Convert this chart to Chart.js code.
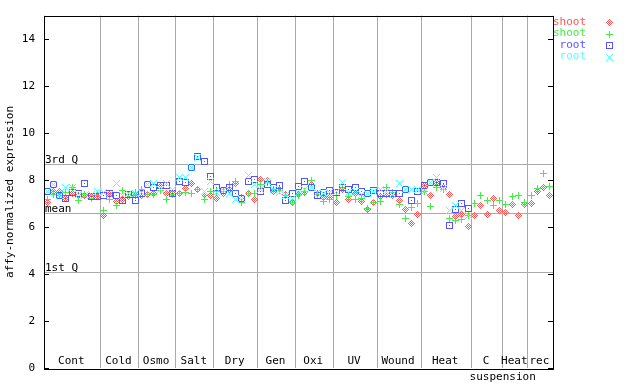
<!DOCTYPE html>
<html>
<head>
<meta charset="utf-8">
<script src="https://cdn.jsdelivr.net/npm/chart.js@4.4.1/dist/chart.umd.min.js"></script>
<style>
  html, body { margin: 0; padding: 0; background: #fff; }
</style>
</head>
<body>
<canvas id="chart" width="640" height="384"></canvas>
<script>
// group labels along the bottom and how many samples each group has
const groupLabels = ['Cont', 'Cold', 'Osmo', 'Salt', 'Dry', 'Gen', 'Oxi', 'UV', 'Wound', 'Heat', 'C', 'Heat', 'rec'];
const groupSizes = [9, 6, 6, 6, 7, 6, 6, 7, 7, 8, 5, 4, 4];

const yTicks = [0, 2, 4, 6, 8, 10, 12, 14];
const quartileNames = ['3rd Q', 'mean', '1st Q'];
const quartileValues = [8.68, 6.62, 4.08];

const seriesNames = ['shoot', 'shoot', 'root', 'root'];
const seriesColors = ['#ff5555', '#44ee44', '#5555ff', '#55ffff'];

// shoot, replicate 1
const shoot1 = [
  7.05, 7.51, 7.54, 7.23, 7.43, 7.35, 7.33, 7.32, 7.32, 6.49, 7.40, 7.10, 7.19, 7.29,
  7.33, 7.33, 7.40, 7.43, 7.75, 7.43, 7.43, 7.44, 7.65, 7.88, 7.61, 7.40, 7.33, 7.23,
  7.45, 7.61, 7.85, 7.25, 7.43, 7.19, 8.03, 7.99, 7.54, 7.61, 7.40, 7.05, 7.40, 7.47,
  7.82, 7.43, 7.26, 7.26, 7.05, 7.61, 7.19, 7.43, 7.08, 6.77, 7.05, 7.29, 7.40,
  7.35, 7.15, 6.77, 6.14, 6.53, 7.79, 7.33, 7.89, 7.70, 7.40, 6.44, 6.53, 6.02,
  6.49, 6.94, 6.56, 7.23, 6.73, 6.63, 6.98, 6.49, 6.98, 7.02, 7.54, 7.71, 7.37
];
// shoot, replicate 2
const shoot2 = [
  7.16, 7.40, 7.33, 7.47, 7.71, 7.12, 7.40, 7.23, 7.33, 6.70, 7.19, 6.91, 7.57, 7.40,
  7.47, 7.61, 7.40, 7.40, 7.58, 7.19, 7.40, 7.43, 7.50, 7.44, 7.61, 7.19, 7.54, 7.51,
  7.54, 7.82, 7.96, 7.05, 7.43, 7.44, 7.82, 7.89, 7.61, 7.58, 7.35, 7.05, 7.37, 7.54,
  8.00, 7.40, 7.08, 7.19, 7.33, 7.68, 7.29, 7.19, 7.23, 6.81, 7.05, 7.08, 7.68,
  7.50, 6.98, 6.39, 6.84, 7.00, 7.54, 6.87, 7.71, 7.61, 6.39, 6.30, 6.35, 6.50,
  7.02, 7.37, 7.15, 6.94, 7.15, 6.98, 7.29, 7.37, 7.05, 7.37, 7.65, 8.28, 7.75
];
// root, replicate 1
const root1 = [
  7.54, 7.82, 7.33, 7.23, 7.47, 7.43, 7.86, 7.32, 7.32, 7.37, 7.43, 7.33, 7.15, 7.40,
  7.15, 7.44, 7.82, 7.68, 7.76, 7.79, 7.43, 7.96, 7.92, 8.55, 9.01, 8.80, 8.17, 7.71,
  7.57, 7.71, 7.44, 7.23, 7.96, 8.03, 7.51, 7.82, 7.71, 7.79, 7.12, 7.44, 7.75, 7.96,
  7.68, 7.33, 7.50, 7.57, 7.50, 7.71, 7.61, 7.71, 7.54, 7.44, 7.57, 7.43, 7.44,
  7.44, 7.44, 7.61, 7.15, 7.54, 7.79, 7.89, 7.89, 7.85, 6.07, 6.77, 7.02, 6.81
];
// root, replicate 2
const root2 = [
  7.54, 7.82, 7.33, 7.68, 7.68, 7.40, 7.37, 7.40, 7.51, 7.47, 7.40, 7.85, 7.37, 7.43,
  7.43, 7.47, 7.82, 7.86, 7.61, 7.86, 7.61, 8.10, 8.10, 8.55, 8.95, 7.54, 7.96, 7.47,
  7.57, 7.43, 7.19, 7.23, 8.19, 7.82, 7.60, 7.96, 7.61, 7.47, 7.37, 7.23, 7.47, 7.61,
  7.68, 7.47, 7.43, 7.47, 7.54, 7.89, 7.47, 7.54, 7.40, 7.44, 7.54, 7.61, 7.54,
  7.40, 7.85, 7.61, 7.60, 7.61, 7.54, 7.90, 8.13, 7.64, 6.72, 6.91, 6.70, 6.49
];

const FONT = { family: '"DejaVu Sans Mono", monospace', size: 11 };
const fontStr = '11px "DejaVu Sans Mono", monospace';

// group boundaries in sample units
const bounds = [0];
groupSizes.forEach(n => bounds.push(bounds[bounds.length - 1] + n));
const nSamples = bounds[bounds.length - 1];

// little pixel markers like the original
function makeMarker(rows, color) {
  const c = document.createElement('canvas');
  c.width = rows[0].length;
  c.height = rows.length;
  const g = c.getContext('2d');
  g.fillStyle = color;
  rows.forEach((row, r) => {
    for (let k = 0; k < row.length; k++) {
      if (row[k] === 'x') g.fillRect(k, r, 1, 1);
    }
  });
  return c;
}
const markers = [
  makeMarker(['...x...', '..x.x..', '.x.x.x.', 'x.x.x.x', '.x.x.x.', '..x.x..', '...x...'], seriesColors[0]),
  makeMarker(['...x...', '...x...', '...x...', 'xxxxxxx', '...x...', '...x...', '...x...'], seriesColors[1]),
  makeMarker(['xxxxxxx', 'x.....x', 'x.....x', 'x..x..x', 'x.....x', 'x.....x', 'xxxxxxx'], seriesColors[2]),
  makeMarker(['x.....x', '.x...x.', '..x.x..', '...x...', '..x.x..', '.x...x.', 'x.....x'], seriesColors[3])
];

function toPoints(values) {
  return values.map((v, i) => ({ x: i + 0.5, y: v }));
}
const allSeries = [shoot1, shoot2, root1, root2];
// later series are drawn on top (lower order = drawn last)
const datasets = allSeries.map((vals, k) => ({
  label: seriesNames[k],
  data: toPoints(vals),
  pointStyle: markers[k],
  pointRadius: 4,
  borderColor: seriesColors[k],
  backgroundColor: seriesColors[k],
  showLine: false,
  order: 3 - k
}));

const decor = {
  id: 'decor',
  beforeDatasetsDraw(chart) {
    const ctx = chart.ctx;
    const a = chart.chartArea;
    const y = chart.scales.y;
    ctx.save();
    ctx.strokeStyle = '#aaaaaa';
    ctx.lineWidth = 1;
    ctx.font = fontStr;
    ctx.fillStyle = '#000';
    ctx.textAlign = 'left';
    ctx.textBaseline = 'alphabetic';
    quartileValues.forEach((v, i) => {
      const py = Math.round(y.getPixelForValue(v)) + 0.5;
      ctx.beginPath();
      ctx.moveTo(a.left, py);
      ctx.lineTo(a.right, py);
      ctx.stroke();
      ctx.fillText(quartileNames[i], a.left + 1, py - 2);
    });
    ctx.restore();
    ctx.imageSmoothingEnabled = false;
  },
  afterDraw(chart) {
    const ctx = chart.ctx;
    const a = chart.chartArea;
    const x = chart.scales.x;
    const y = chart.scales.y;
    ctx.save();
    // frame
    ctx.strokeStyle = '#000';
    ctx.lineWidth = 1;
    ctx.strokeRect(Math.round(a.left) + 0.5, Math.round(a.top) + 0.5,
      Math.round(a.right - a.left), Math.round(a.bottom - a.top));
    // inward tick marks on both sides
    ctx.beginPath();
    yTicks.forEach(v => {
      const py = Math.round(y.getPixelForValue(v)) + 0.5;
      ctx.moveTo(a.left, py); ctx.lineTo(a.left + 5, py);
      ctx.moveTo(a.right - 5, py); ctx.lineTo(a.right, py);
    });
    ctx.stroke();
    // group labels
    ctx.font = fontStr;
    ctx.fillStyle = '#000';
    ctx.textAlign = 'center';
    ctx.textBaseline = 'middle';
    groupLabels.forEach((lab, i) => {
      const cx = (x.getPixelForValue(bounds[i]) + x.getPixelForValue(bounds[i + 1])) / 2 - 1;
      ctx.fillText(lab, cx, a.bottom - 7);
    });
    const ci = groupLabels.indexOf('C');
    ctx.fillText('suspension', x.getPixelForValue(bounds[ci + 1]), a.bottom + 9);
    // legend, top right
    ctx.textAlign = 'right';
    seriesNames.forEach((name, k) => {
      const ly = 22 + k * 11.5;
      ctx.fillStyle = seriesColors[k];
      ctx.fillText(name, 586, ly);
      ctx.drawImage(markers[k], 606, Math.round(ly) - 3);
    });
    ctx.restore();
  }
};

new Chart(document.getElementById('chart'), {
  type: 'scatter',
  data: { datasets: datasets },
  options: {
    responsive: false,
    animation: false,
    layout: { padding: { top: 14, right: 87, left: 0, bottom: 0 } },
    plugins: {
      legend: { display: false },
      tooltip: { enabled: false }
    },
    scales: {
      x: {
        type: 'linear',
        min: 0,
        max: nSamples,
        afterBuildTicks: scale => { scale.ticks = bounds.map(v => ({ value: v })); },
        afterFit: scale => { scale.height = 15; },
        ticks: { display: false },
        grid: { color: '#aaaaaa', drawTicks: false },
        border: { display: false }
      },
      y: {
        min: 0,
        max: 15,
        afterBuildTicks: scale => { scale.ticks = yTicks.map(v => ({ value: v })); },
        afterFit: scale => { scale.width = 44; },
        ticks: { font: FONT, color: '#000', padding: 9 },
        grid: { display: false, drawTicks: false },
        border: { display: false },
        title: {
          display: true,
          text: 'affy-normalized expression',
          font: FONT,
          color: '#000',
          padding: { top: 4, bottom: 0 }
        }
      }
    }
  },
  plugins: [decor]
});
</script>
</body>
</html>
